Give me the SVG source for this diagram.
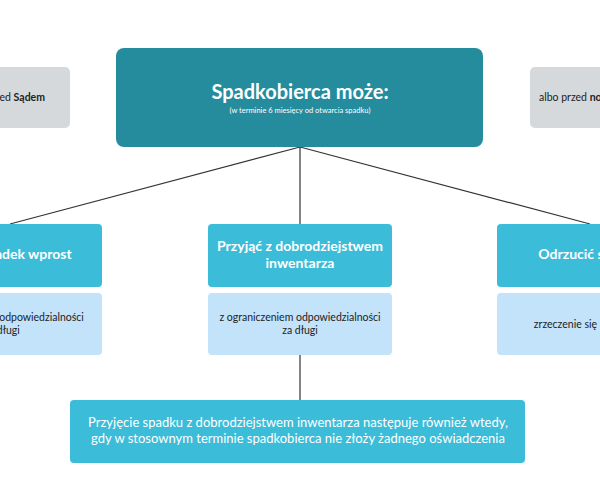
<svg xmlns="http://www.w3.org/2000/svg" width="600" height="480" viewBox="0 0 600 480">
<style>
text{font-family:Lato,"Noto Sans",sans-serif;text-anchor:middle}
.g{fill:#d5d9dc}.t{fill:#3bbcd8}.l{fill:#c3e3fb}
.w{fill:#fff;font-weight:bold;font-size:14px}
.s{fill:#222;font-size:10.5px}
.c{stroke:#333;stroke-width:1.2;fill:none}
</style>
<rect width="600" height="480" fill="#fff"/>
<g id="connectors" class="c">
<line x1="300" y1="147" x2="10" y2="224"/>
<line x1="300" y1="147" x2="590" y2="224"/>
<line x1="300" y1="147" x2="300" y2="224"/>
<line x1="300" y1="355" x2="300" y2="400"/>
</g>
<g id="left-gray"><rect class="g" x="-60" y="67" width="130" height="61" rx="5"/><text class="s" x="45" y="101" style="text-anchor:end">przed <tspan font-weight="bold">Sądem</tspan></text></g>
<g id="right-gray"><rect class="g" x="530" y="67" width="130" height="61" rx="5"/><text class="s" x="539" y="101" style="text-anchor:start">albo przed <tspan font-weight="bold">notariuszem</tspan></text></g>
<g id="main"><rect x="116" y="48" width="367" height="99" rx="8" fill="#258c9e"/>
<text x="300" y="99" fill="#fff" font-size="20" font-weight="bold">Spadkobierca może:</text>
<text x="300" y="113" fill="#fff" font-size="7.5">(w terminie 6 miesięcy od otwarcia spadku)</text></g>
<g id="left-top"><rect class="t" x="-90" y="224" width="192" height="63" rx="4"/><text class="w" x="2" y="259">Przyjąć spadek wprost</text></g>
<g id="left-bottom"><rect class="l" x="-90" y="293" width="192" height="62" rx="4"/><text class="s" x="2" y="321">bez ograniczenia odpowiedzialności</text><text class="s" x="2" y="334">za długi</text></g>
<g id="mid-top"><rect class="t" x="208" y="224" width="184" height="63" rx="4"/><text class="w" x="300" y="251">Przyjąć z dobrodziejstwem</text><text class="w" x="300" y="268">inwentarza</text></g>
<g id="mid-bottom"><rect class="l" x="208" y="293" width="184" height="62" rx="4"/><text class="s" x="300" y="321">z ograniczeniem odpowiedzialności</text><text class="s" x="300" y="334">za długi</text></g>
<g id="right-top"><rect class="t" x="497" y="224" width="192" height="63" rx="4"/><text class="w" x="590" y="259">Odrzucić spadek</text></g>
<g id="right-bottom"><rect class="l" x="497" y="293" width="192" height="62" rx="4"/><text class="s" x="585" y="328">zrzeczenie się majątku</text></g>
<g id="bottom"><rect x="70" y="400" width="455" height="63" rx="4" fill="#3bbcd8"/>
<text x="298" y="427" fill="#fff" font-size="13">Przyjęcie spadku z dobrodziejstwem inwentarza następuje również wtedy,</text>
<text x="298" y="443" fill="#fff" font-size="13">gdy w stosownym terminie spadkobierca nie złoży żadnego oświadczenia</text></g>
</svg>
